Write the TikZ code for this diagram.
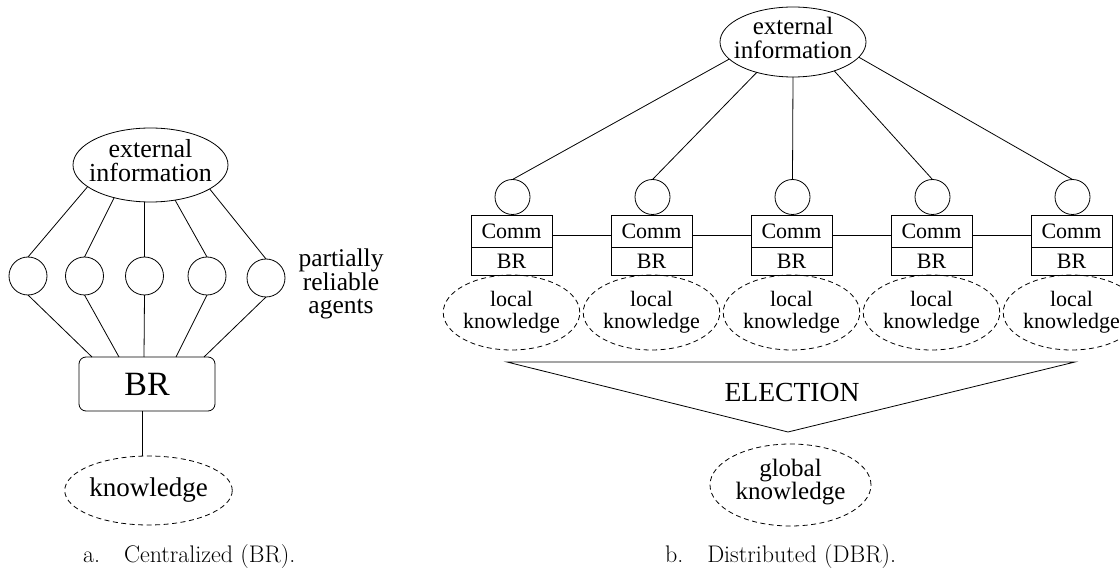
\documentclass[tikz,border=0pt]{standalone}
\usepackage{fontspec}
\newfontfamily\tms{Liberation Serif}
\usetikzlibrary{shapes.geometric}
\begin{document}
\begin{tikzpicture}[x=1pt,y=-1pt,line width=0.8pt,
  every node/.style={inner sep=0pt,outer sep=0pt},
  oval/.style={draw,ellipse,inner sep=0pt},
  dashoval/.style={oval,dash pattern=on 5pt off 3.5pt},
  agent/.style={draw,circle,inner sep=0pt},
  cell/.style={draw,rectangle,minimum width=81pt,font=\tms\fontsize{22}{22}\selectfont},
  bigtxt/.style={font=\tms\fontsize{#1}{23.5}\selectfont,align=center},
  capt/.style={anchor=base west,font=\fontsize{24}{28}\selectfont}]
\useasboundingbox (0,0) rectangle (1120,569);

% ---------- (a) centralized belief revision ----------
\node[oval,minimum width=155pt,minimum height=74pt] (eiL) at (150.5,165) {};
\node[bigtxt=26] (eiLt) at (150.5,160.5) {external\\information};

\foreach \i/\x/\y in {1/28/276,2/84.5/276,3/144.5/276,4/207/276,5/266/278}
  \node[agent,minimum size=38pt] (a\i) at (\x,\y) {};

\draw (eiL.199) -- (a1.north);
\draw (eiL.222) -- (a2.north);
\draw (a3.north) -- (a3.north |- eiL.south);
\draw (eiL.305) -- (a4.north);
\draw (eiL.338) -- (a5.north);

\node[bigtxt=25.5] (pra) at (341,284) {partially\\reliable\\agents};

\node[draw,rounded corners=7pt,minimum width=136pt,minimum height=54pt,
      font=\tms\fontsize{34}{34}\selectfont] (br) at (147,384) {BR};

\draw (a1.south) -- ([xshift=-55pt]br.north);
\draw (a2.south) -- ([xshift=-28pt]br.north);
\draw (a3.south) -- ([xshift=-3pt]br.north);
\draw (a4.south) -- ([xshift=29pt]br.north);
\draw (a5.south) -- ([xshift=57pt]br.north);

\node[dashoval,minimum width=167pt,minimum height=69pt,
      font=\tms\fontsize{27}{27}\selectfont] (kn) at (148.5,490.5) {knowledge};
\draw ([xshift=-5pt]br.south) -- ([xshift=-5pt]br.south |- kn.north);

\node[capt] (capa) at (83,562) {a.\quad Centralized (BR).};

% ---------- (b) distributed belief revision ----------
\node[oval,minimum width=146pt,minimum height=70pt] (eiR) at (793,42) {};
\node[bigtxt=25] (eiRt) at (793,38) {external\\information};

\foreach \i [evaluate=\i as \bx using 371.5+140*\i] in {1,...,5} {
  \node[agent,minimum size=35pt] (n\i) at (\bx+1,197) {};
  \node[cell,minimum height=32pt] (cm\i) at (\bx,231) {Comm};
  \node[cell,minimum height=28pt] (cb\i) at (\bx,261) {BR};
  \node[dashoval,minimum width=110pt,minimum height=75pt,align=center,
        font=\tms\fontsize{22}{22}\selectfont] (lk\i) at (\bx,312.5) {local\\knowledge};
}

\foreach \i/\j in {1/2,2/3,3/4,4/5}
  \draw ([yshift=-4pt]cm\i.east) -- ([yshift=-4pt]cm\j.west);

\draw (eiR.195.7) -- (n1.north);
\draw (eiR.220.7) -- (n2.north);
\draw (eiR.south) -- (n3.north);
\draw (eiR.325.4) -- (n4.north);
\draw (eiR.347.4) -- (n5.north);

\coordinate (tl) at (507,362);
\coordinate (tr) at (1075,362);
\coordinate (tb) at (788,432);
\draw (tl) -- (tr) -- (tb) -- cycle;
\node[font=\tms\fontsize{27.6}{28}\selectfont] (elec) at (792,392) {ELECTION};

\node[dashoval,minimum width=161pt,minimum height=82pt] (gk) at (790.5,485) {};
\node[font=\tms\fontsize{25}{22}\selectfont,align=center] (gkt) at (790.5,482) {global\\knowledge};

\node[capt] (capb) at (665,562) {b.\quad Distributed (DBR).};
\end{tikzpicture}
\end{document}
